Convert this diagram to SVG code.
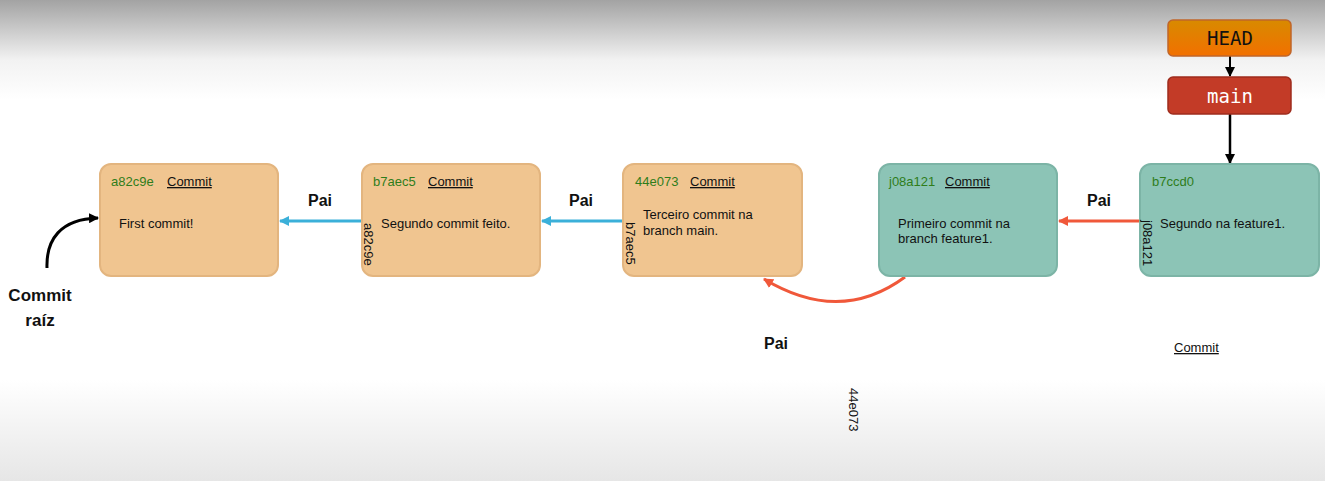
<svg xmlns="http://www.w3.org/2000/svg" width="1325" height="481" viewBox="0 0 1325 481">
<defs>
<linearGradient id="bgTop" x1="0" y1="0" x2="0" y2="1"><stop offset="0" stop-color="#a3a3a3"/><stop offset="0.6" stop-color="#f2f2f2"/><stop offset="1" stop-color="#ffffff"/></linearGradient>
<linearGradient id="bgBot" x1="0" y1="0" x2="0" y2="1"><stop offset="0" stop-color="#ffffff"/><stop offset="1" stop-color="#e6e6e6"/></linearGradient>
<linearGradient id="headG" x1="0" y1="0" x2="0" y2="1"><stop offset="0" stop-color="#d88a00"/><stop offset="1" stop-color="#f27000"/></linearGradient>
<marker id="mBlue" markerWidth="10" markerHeight="10" refX="9" refY="5" orient="auto" markerUnits="userSpaceOnUse"><path d="M0,0 L10,5 L0,10 z" fill="#3bb0d9"/></marker>
<marker id="mRed" markerWidth="10" markerHeight="10" refX="9" refY="5" orient="auto" markerUnits="userSpaceOnUse"><path d="M0,0 L10,5 L0,10 z" fill="#f0583a"/></marker>
<marker id="mBlack" markerWidth="10" markerHeight="10" refX="9" refY="5" orient="auto" markerUnits="userSpaceOnUse"><path d="M0,0 L10,5 L0,10 z" fill="#000"/></marker>
<style>
text{font-family:"Liberation Sans",Arial,sans-serif;}
.box{stroke-width:2;}
.main{fill:#f0c590;stroke:#e3b57f;}
.feat{fill:#8cc4b6;stroke:#7cb4a6;}
.hash{font-size:13px;fill:#2f7d1b;}
.kind{font-size:13px;fill:#111;text-decoration:underline;}
.msg{font-size:13px;fill:#111;}
.rot{font-size:13px;fill:#111;}
.pai{font-size:16px;font-weight:bold;fill:#111;}
.mono{font-family:"DejaVu Sans Mono","Liberation Mono",monospace;font-size:19px;}
</style>
</defs>
<rect x="0" y="0" width="1325" height="481" fill="#ffffff"/>
<rect x="0" y="0" width="1325" height="100" fill="url(#bgTop)"/>
<rect x="0" y="380" width="1325" height="101" fill="url(#bgBot)"/>

<g id="connectors" fill="none">
<line x1="362" y1="221" x2="280" y2="221" stroke="#3bb0d9" stroke-width="3" marker-end="url(#mBlue)"/>
<line x1="623" y1="221" x2="542" y2="221" stroke="#3bb0d9" stroke-width="3" marker-end="url(#mBlue)"/>
<line x1="1140" y1="221" x2="1059" y2="221" stroke="#f0583a" stroke-width="3" marker-end="url(#mRed)"/>
<path d="M905,277 Q840,325 764,279" stroke="#f0583a" stroke-width="3" marker-end="url(#mRed)"/>
<path d="M47,268 C46,240 60,219 98,218" stroke="#000" stroke-width="3" marker-end="url(#mBlack)"/>
<line x1="1230" y1="56" x2="1230" y2="76" stroke="#000" stroke-width="2" marker-end="url(#mBlack)"/>
<line x1="1230" y1="114" x2="1230" y2="163" stroke="#000" stroke-width="2.5" marker-end="url(#mBlack)"/>
<text class="pai" x="320" y="206" text-anchor="middle">Pai</text>
<text class="pai" x="581" y="206" text-anchor="middle">Pai</text>
<text class="pai" x="1099" y="206" text-anchor="middle">Pai</text>
<text class="pai" x="776" y="349" text-anchor="middle">Pai</text>
</g>

<g id="root-label">
<text x="40" y="301" text-anchor="middle" font-size="17" font-weight="bold" fill="#111">Commit</text>
<text x="40" y="326" text-anchor="middle" font-size="17" font-weight="bold" fill="#111">raíz</text>
</g>

<g id="commit-a82c9e">
<rect class="box main" x="100" y="164" width="178" height="112" rx="11"/>
<text class="hash" x="111" y="186">a82c9e</text>
<text class="kind" x="167" y="186">Commit</text>
<text class="msg" x="119" y="228">First commit!</text>
</g>

<g id="commit-b7aec5">
<rect class="box main" x="362" y="164" width="178" height="112" rx="11"/>
<text class="hash" x="373" y="186">b7aec5</text>
<text class="kind" x="428" y="186">Commit</text>
<text class="msg" x="381" y="228">Segundo commit feito.</text>
<text class="rot" transform="translate(364,223) rotate(90)">a82c9e</text>
</g>

<g id="commit-44e073">
<rect class="box main" x="623" y="164" width="179" height="112" rx="11"/>
<text class="hash" x="635" y="186">44e073</text>
<text class="kind" x="690" y="186">Commit</text>
<text class="msg" x="643" y="219">Terceiro commit na</text>
<text class="msg" x="643" y="235">branch main.</text>
<text class="rot" transform="translate(626,222) rotate(90)">b7aec5</text>
</g>

<g id="commit-j08a121">
<rect class="box feat" x="879" y="164" width="178" height="112" rx="11"/>
<text class="hash" x="889" y="186">j08a121</text>
<text class="kind" x="945" y="186">Commit</text>
<text class="msg" x="898" y="228">Primeiro commit na</text>
<text class="msg" x="898" y="243">branch feature1.</text>
</g>

<g id="commit-b7ccd0">
<rect class="box feat" x="1140" y="164" width="179" height="112" rx="11"/>
<text class="hash" x="1152" y="186">b7ccd0</text>
<text class="msg" x="1160" y="228">Segundo na feature1.</text>
<text class="rot" transform="translate(1143,220) rotate(90)">j08a121</text>
</g>

<g id="stray-labels">
<text class="kind" x="1174" y="352">Commit</text>
<text class="rot" transform="translate(849,388) rotate(90)">44e073</text>
</g>

<g id="head">
<rect x="1168" y="20" width="123" height="36" rx="5" fill="url(#headG)" stroke="#c0652a" stroke-width="1.5"/>
<text class="mono" x="1230" y="45" text-anchor="middle" fill="#111">HEAD</text>
</g>

<g id="branch-main">
<rect x="1168" y="77" width="123" height="37" rx="5" fill="#c33b27" stroke="#9e2d1e" stroke-width="1.5"/>
<text class="mono" x="1230" y="103" text-anchor="middle" fill="#ffffff">main</text>
</g>
</svg>
